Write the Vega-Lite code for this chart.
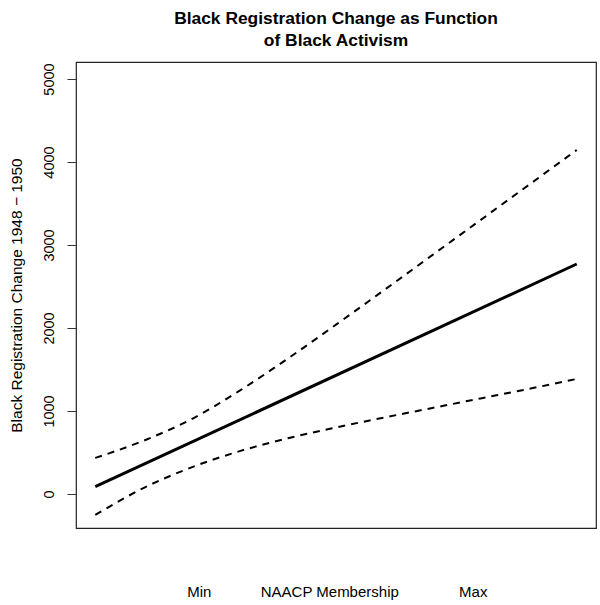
{
  "$schema": "https://vega.github.io/schema/vega-lite/v6.json",
  "autosize": "none",
  "width": 520,
  "height": 466,
  "padding": {"left": 76, "top": 62, "right": 4, "bottom": 77},
  "config": {
    "font": "Liberation Sans",
    "view": {"stroke": "#222", "strokeWidth": 1.2},
    "title": {"font": "Liberation Sans", "fontSize": 17.4, "fontWeight": "bold", "color": "#000", "lineHeight": 22}
  },
  "title": {"text": ["Black Registration Change as Function", "of Black Activism"], "anchor": "middle", "offset": 13},
  "data": {"values": [
    {"x": 0.0, "s": "fit", "v": 88},
    {"x": 1.0, "s": "fit", "v": 2771},
    {"x": 0.0, "s": "upper", "v": 434},
    {"x": 0.1, "s": "upper", "v": 641},
    {"x": 0.2, "s": "upper", "v": 902},
    {"x": 0.3, "s": "upper", "v": 1245},
    {"x": 0.4, "s": "upper", "v": 1632},
    {"x": 0.5, "s": "upper", "v": 2040},
    {"x": 0.6, "s": "upper", "v": 2457},
    {"x": 0.7, "s": "upper", "v": 2878},
    {"x": 0.8, "s": "upper", "v": 3300},
    {"x": 0.9, "s": "upper", "v": 3722},
    {"x": 1.0, "s": "upper", "v": 4145},
    {"x": 0.0, "s": "lower", "v": -253},
    {"x": 0.1, "s": "lower", "v": 71},
    {"x": 0.2, "s": "lower", "v": 321},
    {"x": 0.3, "s": "lower", "v": 516},
    {"x": 0.4, "s": "lower", "v": 671},
    {"x": 0.5, "s": "lower", "v": 801},
    {"x": 0.6, "s": "lower", "v": 921},
    {"x": 0.7, "s": "lower", "v": 1036},
    {"x": 0.8, "s": "lower", "v": 1151},
    {"x": 0.9, "s": "lower", "v": 1266},
    {"x": 1.0, "s": "lower", "v": 1386}
  ]},
  "encoding": {
    "x": {"field": "x", "type": "quantitative",
      "scale": {"domain": [-0.04, 1.04], "nice": false, "zero": false},
      "axis": {"values": [0.215, 0.486, 0.784], "labelExpr": "datum.value < 0.3 ? 'Min' : datum.value < 0.6 ? 'NAACP Membership' : 'Max'",
        "ticks": false, "domain": false, "grid": false, "title": null, "labelFontSize": 15, "labelColor": "#000", "labelPadding": 56, "labelFont": "Liberation Sans"}},
    "y": {"field": "v", "type": "quantitative",
      "scale": {"domain": [-410, 5205], "nice": false, "zero": false},
      "axis": {"values": [0, 1000, 2000, 3000, 4000, 5000], "format": "d", "grid": false, "domain": false, "tickSize": 9, "tickColor": "#333",
        "labelAngle": 270, "labelAlign": "center", "labelBaseline": "bottom", "labelPadding": 11, "labelFontSize": 14.5, "labelColor": "#000", "labelFont": "Liberation Sans",
        "title": "Black Registration Change 1948 − 1950", "titleFontSize": 15.5, "titleFontWeight": "normal", "titleColor": "#000", "titleFont": "Liberation Sans", "titlePadding": 17}}
  },
  "layer": [
    {"transform": [{"filter": "datum.s === 'fit'"}], "mark": {"type": "line", "color": "#000", "strokeWidth": 3}},
    {"transform": [{"filter": "datum.s === 'upper'"}], "mark": {"type": "line", "color": "#000", "strokeWidth": 2, "strokeDash": [7, 6], "interpolate": "monotone"}},
    {"transform": [{"filter": "datum.s === 'lower'"}], "mark": {"type": "line", "color": "#000", "strokeWidth": 2, "strokeDash": [7, 6], "interpolate": "monotone"}}
  ]
}
